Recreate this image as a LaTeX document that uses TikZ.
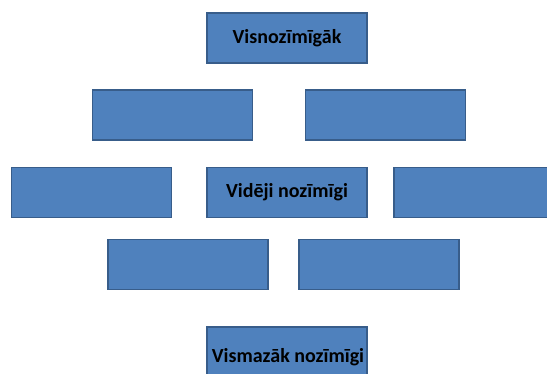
\documentclass[tikz,border=0pt]{standalone}
\usepackage{fontspec}
\setmainfont{Carlito}
\definecolor{boxfill}{HTML}{4F81BD}
\definecolor{boxline}{HTML}{385D8A}
\begin{document}
\begin{tikzpicture}[x=1pt,y=-1pt,
  blk/.style={draw=boxline,fill=boxfill,line width=1.6pt,rectangle,inner sep=0pt,
    minimum width=160pt,minimum height=50pt,
    font=\fontsize{20}{24}\selectfont\bfseries,text=black}]
\useasboundingbox (0,0) rectangle (547,374);
\clip (0,0) rectangle (547,374);
\node[blk] (top) at (287,38) {Visnozīmīgāk};
\node[blk] (r2a) at (172.5,115) {};
\node[blk] (r2b) at (385.5,115) {};
\node[blk] (r3a) at (91.5,192.5) {};
\node[blk] (mid) at (287,192.5) {Vidēji nozīmīgi};
\node[blk] (r3c) at (474,192.5) {};
\node[blk] (r4a) at (188,264.5) {};
\node[blk] (r4b) at (379,264.5) {};
\node[blk,minimum height=54pt,text depth=-8pt] (bot) at (287,354) {};
\node[font=\fontsize{20}{24}\selectfont\bfseries] (botlabel) at (288,357) {Vismazāk nozīmīgi};
\end{tikzpicture}
\end{document}
